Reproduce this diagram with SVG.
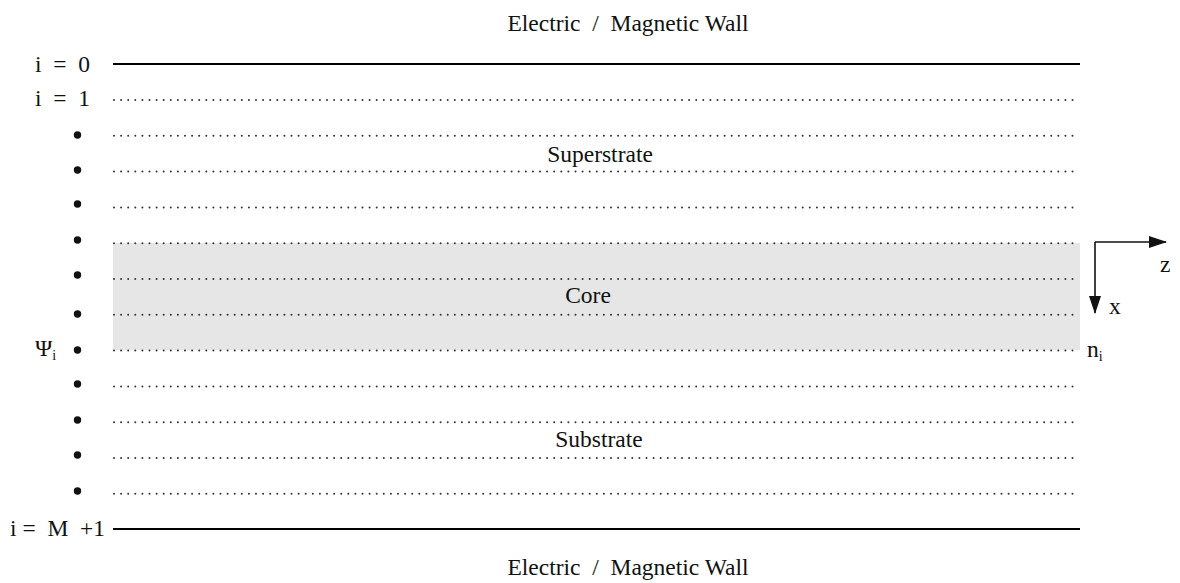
<svg xmlns="http://www.w3.org/2000/svg" width="1180" height="583" viewBox="0 0 1180 583">
<defs>
<style>
text{font-family:"Liberation Serif","Times New Roman",serif;font-size:23.5px;fill:#111;white-space:pre}
.solid{stroke:#000;stroke-width:2.2}
.dot{stroke:#333;stroke-width:2;stroke-dasharray:0 7.1;stroke-linecap:round}
.node{fill:#111}
.ax{stroke:#111;stroke-width:1.6;fill:none}
</style>
<marker id="ah" viewBox="0 0 18 12" refX="17" refY="6" markerWidth="18" markerHeight="12" markerUnits="userSpaceOnUse" orient="auto">
<path d="M0,0 L18,6 L0,12 Z" fill="#111"/>
</marker>
</defs>
<rect width="1180" height="583" fill="#fff"/>
<g id="core-region">
<rect x="113" y="243" width="967" height="107" fill="#e6e6e6"/>
</g>
<g id="connectors">
<line class="solid" x1="113" y1="64" x2="1080" y2="64"/>
<line class="solid" x1="113" y1="529" x2="1080" y2="529"/>
<line class="dot" x1="114" y1="100" x2="1075" y2="100"/>
<line class="dot" x1="114" y1="135.8" x2="1075" y2="135.8"/>
<line class="dot" x1="114" y1="171.6" x2="1075" y2="171.6"/>
<line class="dot" x1="114" y1="207.4" x2="1075" y2="207.4"/>
<line class="dot" x1="114" y1="243.2" x2="1075" y2="243.2"/>
<line class="dot" x1="114" y1="279" x2="1075" y2="279"/>
<line class="dot" x1="114" y1="314.8" x2="1075" y2="314.8"/>
<line class="dot" x1="114" y1="350.6" x2="1075" y2="350.6"/>
<line class="dot" x1="114" y1="386.4" x2="1075" y2="386.4"/>
<line class="dot" x1="114" y1="422.2" x2="1075" y2="422.2"/>
<line class="dot" x1="114" y1="458" x2="1075" y2="458"/>
<line class="dot" x1="114" y1="493.8" x2="1075" y2="493.8"/>
<path class="ax" d="M1095,242 L1166,242" marker-end="url(#ah)"/>
<path class="ax" d="M1095,242 L1095,313" marker-end="url(#ah)"/>
</g>
<g id="grid-points">
<circle class="node" cx="77.5" cy="135" r="3.7"/>
<circle class="node" cx="77.5" cy="170" r="3.7"/>
<circle class="node" cx="77.5" cy="204" r="3.7"/>
<circle class="node" cx="77.5" cy="240" r="3.7"/>
<circle class="node" cx="77.5" cy="275" r="3.7"/>
<circle class="node" cx="77.5" cy="314" r="3.7"/>
<circle class="node" cx="77.5" cy="350" r="3.7"/>
<circle class="node" cx="77.5" cy="384" r="3.7"/>
<circle class="node" cx="77.5" cy="420" r="3.7"/>
<circle class="node" cx="77.5" cy="455" r="3.7"/>
<circle class="node" cx="77.5" cy="491" r="3.7"/>
</g>
<g id="labels">
<text x="628" y="31" text-anchor="middle" xml:space="preserve">Electric  /  Magnetic Wall</text>
<text x="628" y="575" text-anchor="middle" xml:space="preserve">Electric  /  Magnetic Wall</text>
<text x="35" y="72" xml:space="preserve">i  =  0</text>
<text x="35" y="106" xml:space="preserve">i  =  1</text>
<text x="10" y="536" xml:space="preserve">i =  M  +1</text>
<text x="35" y="356">Ψ<tspan font-size="14" dy="4">i</tspan></text>
<text x="600" y="162" text-anchor="middle">Superstrate</text>
<text x="588" y="303" text-anchor="middle">Core</text>
<text x="599" y="447" text-anchor="middle">Substrate</text>
<text x="1160" y="272">z</text>
<text x="1109" y="314">x</text>
<text x="1087" y="357">n<tspan font-size="14" dy="4">i</tspan></text>
</g>
</svg>
